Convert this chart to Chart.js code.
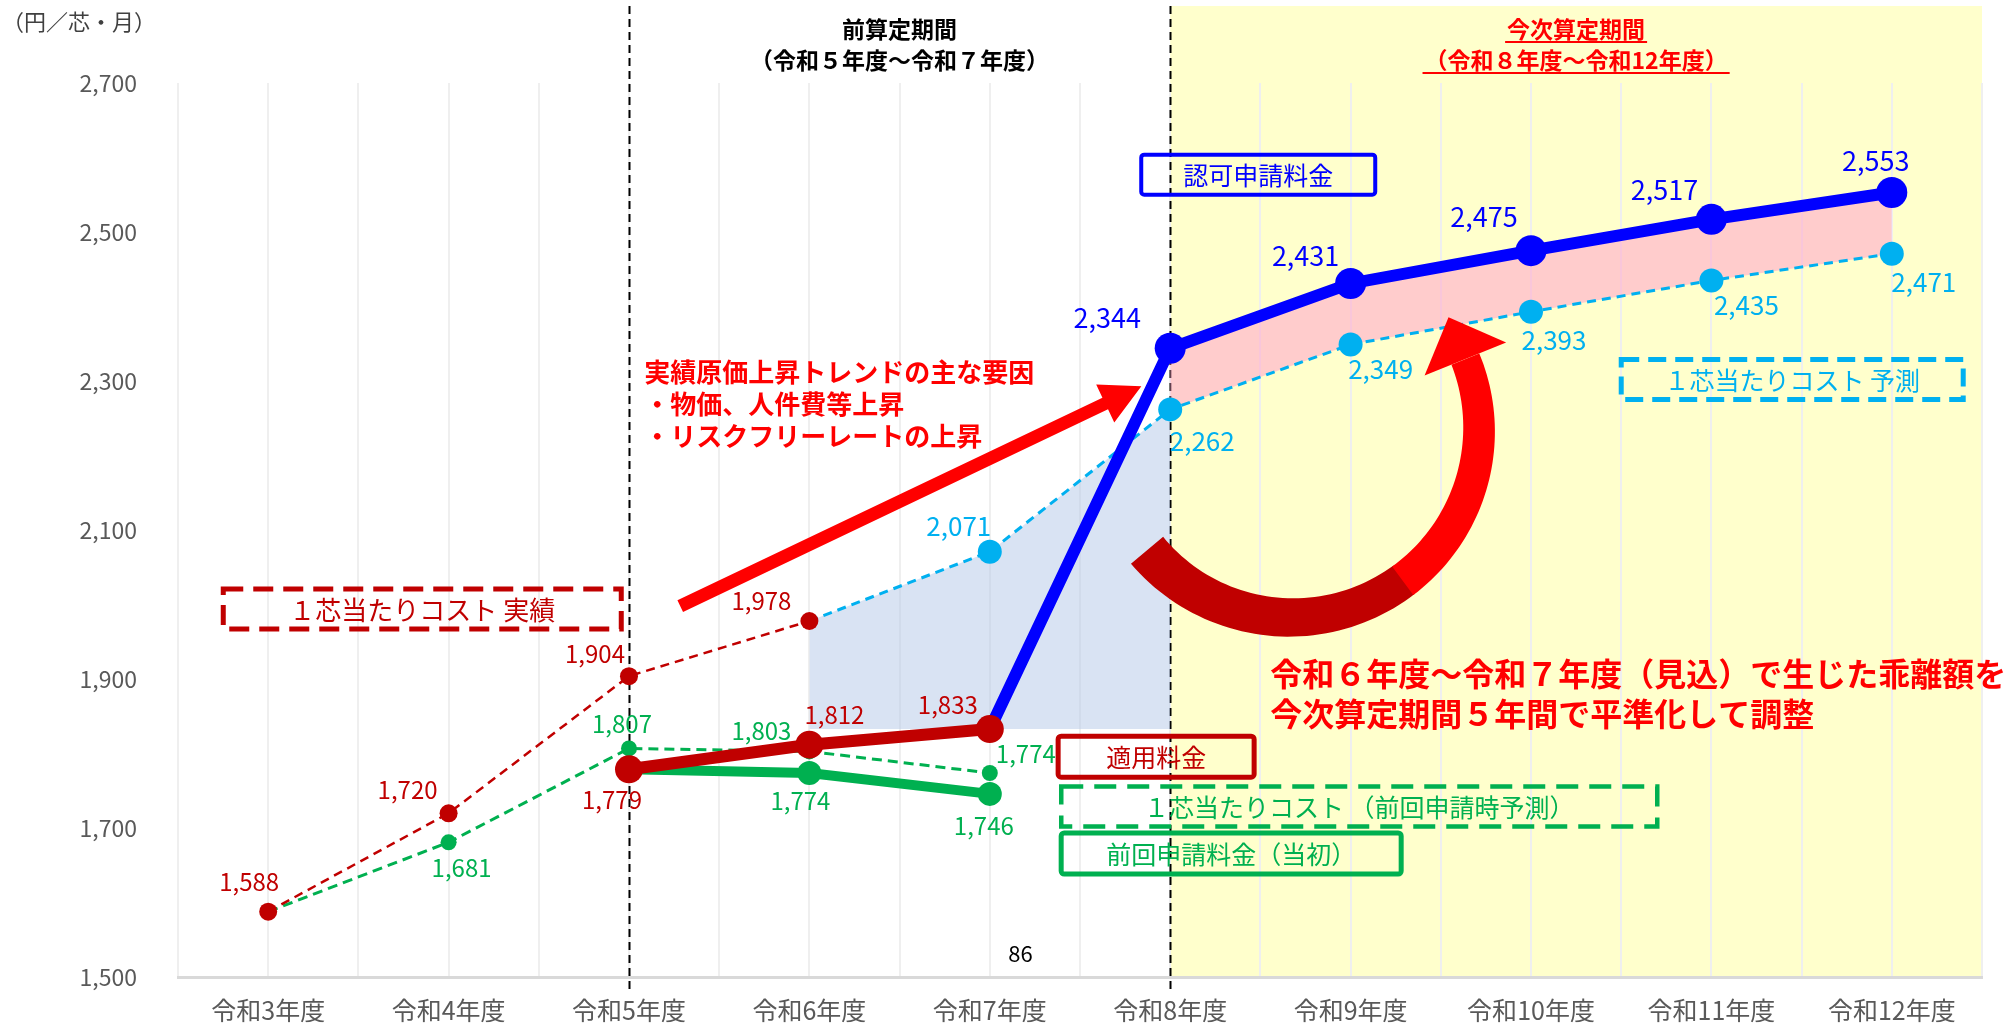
<!DOCTYPE html>
<html lang="ja">
<head>
<meta charset="utf-8">
<title>1芯当たりコストと料金の推移</title>
<script src="https://cdn.jsdelivr.net/npm/chart.js@4.4.1/dist/chart.umd.min.js"></script>
<style>
  html, body { margin: 0; padding: 0; background: #fff; }
  #wrap { width: 2004px; height: 1024px; }
</style>
</head>
<body>
<div id="wrap"><canvas id="chart" width="2004" height="1024"></canvas></div>
<script>
const FONT = '"Noto Sans CJK JP", "Noto Sans", sans-serif';

// fiscal years
const years = ['令和3年度', '令和4年度', '令和5年度', '令和6年度', '令和7年度',
               '令和8年度', '令和9年度', '令和10年度', '令和11年度', '令和12年度'];

// 1芯当たりコスト 実績
const costActual = [1588, 1720, 1904, 1978, null, null, null, null, null, null];
// 1芯当たりコスト（前回申請時予測）
const costPrevForecast = [1588, 1681, 1807, 1803, 1774, null, null, null, null, null];
// 前回申請料金（当初）
const feePrev = [null, null, 1779, 1774, 1746, null, null, null, null, null];
// 適用料金
const feeApplied = [null, null, 1779, 1812, 1833, null, null, null, null, null];
// 認可申請料金 (line starts from the last applied fee)
const feeApproved = [null, null, null, null, 1833, 2344, 2431, 2475, 2517, 2553];
// 1芯当たりコスト 予測 (line starts from the last actual cost)
const costForecast = [null, null, null, 1978, 2071, 2262, 2349, 2393, 2435, 2471];

// y axis ticks
const yMin = 1500, yMax = 2700, yStep = 200;

// first year of each rate period
const prevPeriodStart = 2;  // 令和5年度
const nextPeriodStart = 5;  // 令和8年度
const lastActualIdx = 3;    // 令和6年度
const lastAppliedIdx = 4;   // 令和7年度

// helper series for the shaded areas
const gapTop = costForecast.map((v, i) => (i >= lastActualIdx && i <= nextPeriodStart) ? v : null);
const gapBase = gapTop.map(v => v === null ? null : feeApplied[lastAppliedIdx]);
const bandTop = feeApproved.map((v, i) => i >= nextPeriodStart ? v : null);
const bandBase = costForecast.map((v, i) => i >= nextPeriodStart ? v : null);

const C = {
  darkRed: '#C00000', red: '#FF0000', green: '#00B050',
  blue: '#0000FF', sky: '#00B0F0', grey: '#595959'
};

const font = (size, bold) => `${bold ? 'bold ' : ''}${size}px ${FONT}`;
const fmt = v => v.toLocaleString('en-US');

// value labels: offset of the label centre from its point, null = no label
const valueLabels = [
  { id: 'actual', color: C.darkRed, size: 24,
    offsets: [[-19, -30], [-41, -23], [-34, -22], [-48, -20], null, null, null, null, null, null] },
  { id: 'prevForecast', color: C.green, size: 24,
    offsets: [null, [13, 26], [-7, -25], [-48, -21], [36, -19], null, null, null, null, null] },
  { id: 'prevFee', color: C.green, size: 24,
    offsets: [null, null, null, [-9, 28], [-6, 32], null, null, null, null, null] },
  { id: 'applied', color: C.darkRed, size: 24,
    offsets: [null, null, [-17, 31], [25, -30], [-42, -24], null, null, null, null, null] },
  { id: 'approved', color: C.blue, size: 27,
    offsets: [null, null, null, null, null, [-63, -31], [-45, -28], [-47, -34], [-47, -30], [-16, -32]] },
  { id: 'forecast', color: C.sky, size: 26,
    offsets: [null, null, null, null, [-31, -26], [32, 32], [30, 25], [23, 28], [35, 25], [32, 28]] },
];

// legend-like boxes, anchored at (category index, value)
const boxes = [
  { text: '１芯当たりコスト 実績', at: [0.854, 1994], w: 398, h: 40, color: C.darkRed, dash: [20, 10], lw: 5, size: 26 },
  { text: '認可申請料金', at: [5.488, 2577], w: 234, h: 40, color: C.blue, lw: 4, size: 25 },
  { text: '１芯当たりコスト 予測', at: [8.448, 2302], w: 342, h: 40, color: C.sky, dash: [18, 9], lw: 5, size: 25 },
  { text: '適用料金', at: [4.922, 1796], w: 196, h: 41, color: C.darkRed, lw: 5, size: 25 },
  { text: '１芯当たりコスト （前回申請時予測）', at: [6.048, 1729], w: 596, h: 40, color: C.green, dash: [22, 11], lw: 4.5, size: 25 },
  { text: '前回申請料金（当初）', at: [5.338, 1666], w: 340, h: 41, color: C.green, lw: 5, size: 25 },
];

const trendNote = ['実績原価上昇トレンドの主な要因', '・物価、人件費等上昇', '・リスクフリーレートの上昇'];
const adjustNote = ['令和６年度～令和７年度（見込）で生じた乖離額を', '今次算定期間５年間で平準化して調整'];

function at(chart, i, v) {
  return { x: chart.scales.x.getPixelForValue(i), y: chart.scales.y.getPixelForValue(v) };
}

function drawArrow(ctx, p0, p1, shaft, headW, headL, color) {
  const dx = p1.x - p0.x, dy = p1.y - p0.y, len = Math.hypot(dx, dy);
  const ux = dx / len, uy = dy / len, nx = -uy, ny = ux;
  const bx = p1.x - ux * headL, by = p1.y - uy * headL;
  ctx.beginPath();
  ctx.moveTo(p0.x + nx * shaft / 2, p0.y + ny * shaft / 2);
  ctx.lineTo(bx + nx * shaft / 2, by + ny * shaft / 2);
  ctx.lineTo(bx + nx * headW / 2, by + ny * headW / 2);
  ctx.lineTo(p1.x, p1.y);
  ctx.lineTo(bx - nx * headW / 2, by - ny * headW / 2);
  ctx.lineTo(bx - nx * shaft / 2, by - ny * shaft / 2);
  ctx.lineTo(p0.x - nx * shaft / 2, p0.y - ny * shaft / 2);
  ctx.closePath();
  ctx.fillStyle = color;
  ctx.fill();
}

// tapered arc arrow, angles in radians, travelling from a0 down to a1
function drawCurvedArrow(ctx, c, r, a0, aSplit, a1, w0, w1, headW, headL) {
  const width = a => w0 + (w1 - w0) * (a0 - a) / (a0 - a1);
  const band = (from, to, color) => {
    const n = 48;
    ctx.beginPath();
    for (let k = 0; k <= n; k++) {
      const a = from + (to - from) * k / n, rr = r + width(a) / 2;
      const x = c.x + rr * Math.cos(a), y = c.y + rr * Math.sin(a);
      if (k === 0) ctx.moveTo(x, y); else ctx.lineTo(x, y);
    }
    for (let k = n; k >= 0; k--) {
      const a = from + (to - from) * k / n, rr = r - width(a) / 2;
      ctx.lineTo(c.x + rr * Math.cos(a), c.y + rr * Math.sin(a));
    }
    ctx.closePath();
    ctx.fillStyle = color;
    ctx.fill();
  };
  band(a0, aSplit, C.darkRed);
  band(aSplit + 0.01, a1, C.red);
  const cos = Math.cos(a1), sin = Math.sin(a1);
  const bx = c.x + r * cos, by = c.y + r * sin;
  ctx.beginPath();
  ctx.moveTo(bx + cos * headW / 2, by + sin * headW / 2);
  ctx.lineTo(bx + sin * headL, by - cos * headL);
  ctx.lineTo(bx - cos * headW / 2, by - sin * headW / 2);
  ctx.closePath();
  ctx.fillStyle = C.red;
  ctx.fill();
}

const deg = d => d * Math.PI / 180;

const backdrop = {
  id: 'backdrop',
  beforeDraw(chart) {
    const { ctx, chartArea: a } = chart;
    ctx.save();
    ctx.fillStyle = '#fff';
    ctx.fillRect(0, 0, chart.width, chart.height);
    const x0 = chart.scales.x.getPixelForValue(nextPeriodStart);
    ctx.fillStyle = '#FFFFCC';
    ctx.fillRect(x0, 6, a.right - x0, a.bottom - 6);
    ctx.restore();
  },
  beforeDatasetsDraw(chart) {
    const { ctx, chartArea: a } = chart;
    ctx.save();
    ctx.strokeStyle = '#000';
    ctx.lineWidth = 2;
    ctx.setLineDash([8, 5]);
    for (const i of [prevPeriodStart, nextPeriodStart]) {
      const x = Math.round(chart.scales.x.getPixelForValue(i)) + 0.5;
      ctx.beginPath();
      ctx.moveTo(x, 6);
      ctx.lineTo(x, a.bottom + 13);
      ctx.stroke();
    }
    ctx.restore();
  }
};

const labels = {
  id: 'labels',
  afterDatasetsDraw(chart) {
    const ctx = chart.ctx;
    ctx.save();
    ctx.textAlign = 'center';
    ctx.textBaseline = 'middle';
    for (const s of valueLabels) {
      const idx = chart.data.datasets.findIndex(d => d.id === s.id);
      const ds = chart.data.datasets[idx];
      const meta = chart.getDatasetMeta(idx);
      ctx.fillStyle = s.color;
      ctx.font = font(s.size);
      s.offsets.forEach((o, i) => {
        if (!o || ds.data[i] === null) return;
        const pt = meta.data[i];
        ctx.fillText(fmt(ds.data[i]), pt.x + o[0], pt.y + o[1]);
      });
    }
    ctx.restore();
  }
};

const notes = {
  id: 'notes',
  afterDraw(chart) {
    const { ctx, chartArea: a } = chart;
    const xs = chart.scales.x;
    ctx.save();

    // unit
    ctx.fillStyle = '#404040';
    ctx.font = font(22);
    ctx.textAlign = 'left';
    ctx.textBaseline = 'middle';
    ctx.fillText('（円／芯・月）', 2, 22);

    // period headers
    ctx.textAlign = 'center';
    const prevMid = (xs.getPixelForValue(prevPeriodStart) + xs.getPixelForValue(nextPeriodStart)) / 2;
    ctx.fillStyle = '#000';
    ctx.font = font(23, true);
    ctx.fillText('前算定期間', prevMid, 29);
    ctx.fillText('（令和５年度～令和７年度）', prevMid, 60);

    const nextMid = (xs.getPixelForValue(nextPeriodStart) + a.right) / 2;
    ctx.fillStyle = C.red;
    ctx.strokeStyle = C.red;
    ctx.lineWidth = 2;
    [['今次算定期間', 29], ['（令和８年度～令和12年度）', 60]].forEach(([t, y]) => {
      ctx.fillText(t, nextMid, y);
      const w = ctx.measureText(t).width;
      ctx.beginPath();
      ctx.moveTo(nextMid - w / 2 - 2, y + 13);
      ctx.lineTo(nextMid + w / 2 + 2, y + 13);
      ctx.stroke();
    });

    // arrows
    drawArrow(ctx, at(chart, 2.284, 1998), at(chart, 4.84, 2293), 13, 42, 40, C.red);
    drawCurvedArrow(ctx, at(chart, 5.67, 2235), 188, deg(140), deg(53), deg(-22), 42, 30, 88, 45);

    // boxes
    for (const b of boxes) {
      const p = at(chart, b.at[0], b.at[1]);
      ctx.lineWidth = b.lw;
      ctx.strokeStyle = b.color;
      ctx.setLineDash(b.dash || []);
      ctx.beginPath();
      if (b.dash) ctx.rect(p.x - b.w / 2, p.y - b.h / 2, b.w, b.h);
      else ctx.roundRect(p.x - b.w / 2, p.y - b.h / 2, b.w, b.h, 3);
      ctx.stroke();
      ctx.setLineDash([]);
      ctx.fillStyle = b.color;
      ctx.font = font(b.size);
      ctx.textAlign = 'center';
      ctx.fillText(b.text, p.x, p.y + 1);
    }

    // notes
    ctx.fillStyle = C.red;
    ctx.textAlign = 'left';
    ctx.font = font(26, true);
    const t0 = at(chart, 2.084, 2312);
    trendNote.forEach((t, k) => ctx.fillText(t, t0.x, t0.y + k * 32));

    ctx.font = font(32, true);
    const n0 = at(chart, 5.554, 1907);
    adjustNote.forEach((t, k) => ctx.fillText(t, n0.x, n0.y + k * 40));

    // page number
    ctx.fillStyle = '#000';
    ctx.font = font(22);
    ctx.textAlign = 'center';
    const pg = at(chart, 4.17, 1532);
    ctx.fillText('86', pg.x, pg.y);

    ctx.restore();
  }
};

const invisible = { borderWidth: 0, pointRadius: 0, pointHoverRadius: 0 };

const lineSet = (id, data, color, width, radius, extra) => Object.assign({
  id, label: id, data, borderColor: color, backgroundColor: color,
  borderWidth: width, pointRadius: radius, pointHoverRadius: radius,
  pointBackgroundColor: color, pointBorderWidth: 0, tension: 0, fill: false
}, extra);

Chart.defaults.font.family = FONT;

new Chart(document.getElementById('chart'), {
  type: 'line',
  data: {
    labels: years,
    datasets: [
      Object.assign({ id: 'gapTop', data: gapTop, fill: 1, backgroundColor: 'rgba(180,199,231,0.5)', order: 20 }, invisible),
      Object.assign({ id: 'gapBase', data: gapBase, fill: false, order: 21 }, invisible),
      Object.assign({ id: 'bandTop', data: bandTop, fill: 3, backgroundColor: 'rgba(255,170,204,0.6)', order: 20 }, invisible),
      Object.assign({ id: 'bandBase', data: bandBase, fill: false, order: 21 }, invisible),
      lineSet('prevForecast', costPrevForecast, C.green, 3, 8, { borderDash: [10, 6], order: 9 }),
      lineSet('actual', costActual, C.darkRed, 2.5, 9, { borderDash: [9, 6], order: 5 }),
      lineSet('forecast', costForecast, C.sky, 3, c => c.dataIndex === lastActualIdx ? 0 : 12, { borderDash: [9, 6], order: 7 }),
      lineSet('prevFee', feePrev, C.green, 10, 12, { order: 4 }),
      lineSet('approved', feeApproved, C.blue, 12, c => c.dataIndex === lastAppliedIdx ? 0 : 15.5, { order: 3 }),
      lineSet('applied', feeApplied, C.darkRed, 12, 14, { order: 2 }),
    ]
  },
  options: {
    responsive: false,
    animation: false,
    devicePixelRatio: 1,
    layout: { padding: { top: 83, right: 22, left: 0, bottom: 0 } },
    plugins: { legend: { display: false }, tooltip: { enabled: false } },
    scales: {
      x: {
        type: 'category',
        offset: true,
        grid: { offset: false, color: '#EFEFEF', lineWidth: 2, drawTicks: false },
        border: { color: '#D9D9D9', width: 3 },
        ticks: { color: C.grey, font: { size: 25 }, padding: 18, maxRotation: 0, autoSkip: false },
        afterFit: s => { s.height = 45; }
      },
      x2: {
        type: 'category',
        labels: years,
        position: 'bottom',
        offset: true,
        grid: { offset: true, color: '#EFEFEF', lineWidth: 2, drawTicks: false },
        border: { display: false },
        ticks: { display: false },
        afterFit: s => { s.height = 0; }
      },
      y: {
        min: yMin, max: yMax,
        grid: { display: false },
        border: { display: false },
        ticks: { stepSize: yStep, color: C.grey, font: { size: 23 }, padding: 33, callback: v => fmt(v) },
        afterFit: s => { s.width = 178; }
      }
    }
  },
  plugins: [backdrop, labels, notes]
});
</script>
</body>
</html>
